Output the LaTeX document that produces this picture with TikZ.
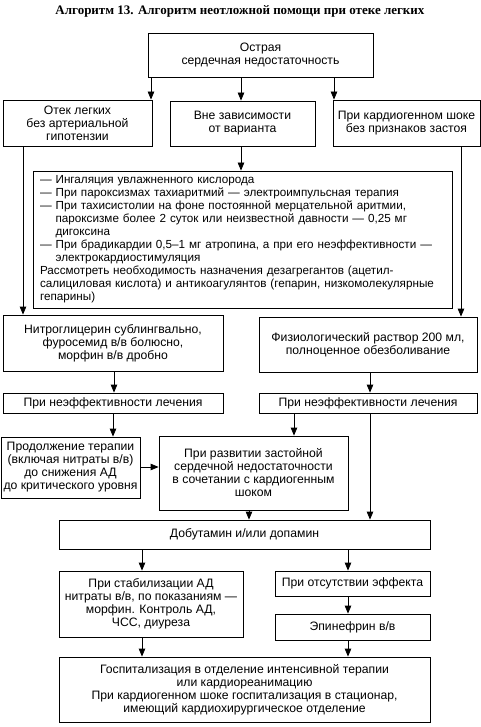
\documentclass[tikz,border=0pt]{standalone}
\usepackage{fontspec}
\setmainfont{Liberation Sans}
\newfontfamily\titlefont{Liberation Serif}
\usetikzlibrary{arrows.meta}
\tikzset{
  bx/.style={draw, line width=0.8pt, inner sep=0pt, align=center, font=\fontsize{12.2}{13}\selectfont},
  arr/.style={line width=0.8pt, -{Triangle[length=8pt,width=6.5pt]}},
}
\newcommand{\mkbox}[6]{% name, x1,y1,x2,y2, text
  \node[bx, minimum width={#4-#2}, minimum height={#5-#3}] (#1) at ({(#2+#4)/2},{(#3+#5)/2}) {#6};}
\newcommand{\bline}[1]{\mbox{#1}}
\newcommand{\bind}{\phantom{— }}
\begin{document}
\begin{tikzpicture}[x=1pt,y=-1pt]
\useasboundingbox (0,0) rectangle (481,727);
\node[font=\titlefont\bfseries\fontsize{13}{15}\selectfont] (title) at (240,11) {Алгоритм 13. Алгоритм неотложной помощи при отеке легких};
\mkbox{box1}{148}{33}{373}{77}{Острая\\сердечная недостаточность}
\mkbox{box2}{3}{100}{152}{146}{Отек легких\\без артериальной\\гипотензии}
\mkbox{box3}{170}{101}{315}{146}{Вне зависимости\\от варианта}
\mkbox{box4}{333}{100}{480}{146}{При кардиогенном шоке\\без признаков застоя}
\node[bx, align=left, font=\fontsize{11.7}{13}\selectfont, minimum width=419, minimum height=137, text width=405, inner xsep=7pt] (big) at (242.5,239.5) {%
\bline{— Ингаляция увлажненного кислорода}\\
\bline{— При пароксизмах тахиаритмий — электроимпульсная терапия}\\
\bline{— При тахисистолии на фоне постоянной мерцательной аритмии,}\\
\bline{\bind пароксизме более 2 суток или неизвестной давности — 0,25 мг}\\
\bline{\bind дигоксина}\\
\bline{— При брадикардии 0,5–1 мг атропина, а при его неэффективности —}\\
\bline{\bind электрокардиостимуляция}\\
\bline{Рассмотреть необходимость назначения дезагрегантов (ацетил-}\\
\bline{салициловая кислота) и антикоагулянтов (гепарин, низкомолекулярные}\\
\bline{гепарины)}};
\mkbox{nitro}{3}{315}{223}{371}{Нитроглицерин сублингвально,\\фуросемид в/в болюсно,\\морфин в/в дробно}
\mkbox{fiz}{259}{317}{477}{372}{Физиологический раствор 200 мл,\\полноценное обезболивание}
\mkbox{ne1}{3}{393}{223}{413}{При неэффективности лечения}
\mkbox{ne2}{259}{393}{477}{413}{При неэффективности лечения}
\mkbox{prod}{1}{437}{140}{498}{Продолжение терапии\\(включая нитраты в/в)\\до снижения АД\\до критического уровня}
\mkbox{razv}{159}{436}{348}{510}{При развитии застойной\\сердечной недостаточности\\в сочетании с кардиогенным\\шоком}
\mkbox{dob}{59}{520}{430}{549}{Добутамин и/или допамин}
\mkbox{stab}{59}{571}{243}{637}{При стабилизации АД\\нитраты в/в, по показаниям —\\морфин. Контроль АД,\\ЧСС, диуреза}
\mkbox{ots}{275}{571}{430}{596}{При отсутствии эффекта}
\mkbox{epi}{275}{614}{430}{640}{Эпинефрин в/в}
\mkbox{hosp}{59}{657}{430}{722}{Госпитализация в отделение интенсивной терапии\\или кардиореанимацию\\При кардиогенном шоке госпитализация в стационар,\\имеющий кардиохирургическое отделение}
\coordinate (xa) at (151,0);
\coordinate (xb) at (241,0);
\coordinate (xc) at (334,0);
\coordinate (xd) at (23,0);
\coordinate (xe) at (461,0);
\coordinate (xf) at (114,0);
\coordinate (xg) at (370,0);
\coordinate (xh) at (113,0);
\coordinate (xi) at (294,0);
\coordinate (xj) at (249,0);
\coordinate (xk) at (142,0);
\coordinate (xl) at (348,0);
\coordinate (ya) at (0,467);
\draw[arr] (box1.south -| xa) -- (box2.north -| xa);
\draw[arr] (box1.south -| xb) -- (box3.north -| xb);
\draw[arr] (box1.south -| xc) -- (box4.north -| xc);
\draw[arr] (box3.south -| xb) -- (big.north -| xb);
\draw[arr] (box2.south -| xd) -- (nitro.north -| xd);
\draw[arr] (box4.south -| xe) -- (fiz.north -| xe);
\draw[arr] (nitro.south -| xf) -- (ne1.north -| xf);
\draw[arr] (fiz.south -| xg) -- (ne2.north -| xg);
\draw[arr] (ne1.south -| xh) -- (prod.north -| xh);
\draw[arr] (ne2.south -| xi) -- (razv.north -| xi);
\draw[arr] (prod.east |- ya) -- (razv.west |- ya);
\draw[arr] (ne2.south -| xg) -- (dob.north -| xg);
\draw[arr] (razv.south -| xj) -- (dob.north -| xj);
\draw[arr] (dob.south -| xk) -- (stab.north -| xk);
\draw[arr] (dob.south -| xl) -- (ots.north -| xl);
\draw[arr] (ots.south -| xl) -- (epi.north -| xl);
\draw[arr] (stab.south -| xk) -- (hosp.north -| xk);
\draw[arr] (epi.south -| xl) -- (hosp.north -| xl);
\end{tikzpicture}
\end{document}
